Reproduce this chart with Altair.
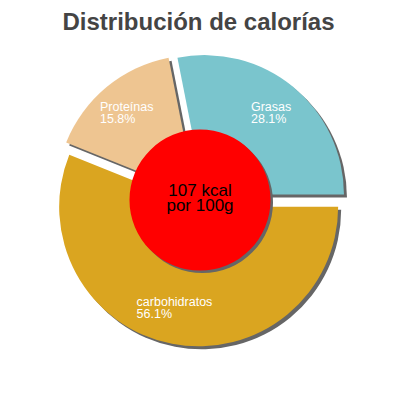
import altair as alt
import pandas as pd

# ---- data ----
categories = ["carbohidratos", "Proteínas", "Grasas"]
percents = [56.1, 15.8, 28.1]
colors = ["#DAA520", "#EEC591", "#7AC5CD"]
kcal = [107]
unit_line = ["por 100g"]
chart_title = ["Distribución de calorías"]

# ---- layout constants (chart coords = screen - 8) ----
OFF = 8
CX, CY = 200 - OFF, 200 - OFF
R = 139.5
R_IN = 70.5
D = 7
SH = 3
RL = 104
FONT = "Liberation Sans"

df = pd.DataFrame({"cat": categories, "pct": percents, "idx": list(range(len(categories)))})

base = (
    alt.Chart(df)
    .transform_window(cum="sum(pct)", sort=[alt.SortField("idx")], frame=[None, 0])
    .transform_joinaggregate(total="sum(pct)")
    .transform_calculate(
        start="PI/2 + (datum.cum - datum.pct)/datum.total*2*PI",
        end="PI/2 + datum.cum/datum.total*2*PI",
    )
    .transform_calculate(mid="(datum.start + datum.end)/2")
    .transform_calculate(
        ex=f"{CX} + {D}*sin(datum.mid)",
        ey=f"{CY} - {D}*cos(datum.mid)",
        lbl="datum.cat + '\\n' + format(datum.pct, '.1f') + '%'",
    )
    .transform_calculate(
        sx=f"datum.ex + {SH}",
        sy=f"datum.ey + {SH}",
        lx=f"datum.ex + {RL}*sin(datum.mid) - length(datum.cat)*3.25",
        ly=f"datum.ey - {RL}*cos(datum.mid)",
    )
)

shadow = base.mark_arc(outerRadius=R, color="#666666").encode(
    theta=alt.Theta("start:Q", scale=None),
    theta2="end:Q",
    x=alt.X("sx:Q", scale=None, axis=None),
    y=alt.Y("sy:Q", scale=None, axis=None),
)

slices = base.mark_arc(outerRadius=R).encode(
    theta=alt.Theta("start:Q", scale=None),
    theta2="end:Q",
    x=alt.X("ex:Q", scale=None, axis=None),
    y=alt.Y("ey:Q", scale=None, axis=None),
    color=alt.Color("cat:N", scale=alt.Scale(domain=categories, range=colors), legend=None),
)

labels = base.mark_text(
    align="left", baseline="alphabetic", dy=-3, font=FONT, fontSize=12.5,
    lineBreak="\n", lineHeight=12, color="white"
).encode(
    x=alt.X("lx:Q", scale=None, axis=None),
    y=alt.Y("ly:Q", scale=None, axis=None),
    text="lbl:N",
)

cdf = pd.DataFrame({"kcal": kcal, "unit": unit_line})
center = alt.Chart(cdf).transform_calculate(
    ctext="datum.kcal + ' kcal\\n' + datum.unit",
    t0="0",
    t1="2*PI",
)

circle_shadow = center.mark_arc(outerRadius=R_IN, color="#666666").encode(
    theta=alt.Theta("t0:Q", scale=None),
    theta2="t1:Q",
    x=alt.value(CX + 2.5),
    y=alt.value(CY + 2.5),
)
circle = center.mark_arc(outerRadius=R_IN, color="#FF0000").encode(
    theta=alt.Theta("t0:Q", scale=None),
    theta2="t1:Q",
    x=alt.value(CX),
    y=alt.value(CY),
)
c_text = center.mark_text(
    align="center", baseline="alphabetic", font=FONT, fontSize=17,
    lineBreak="\n", lineHeight=14.5, color="black"
).encode(x=alt.value(CX), y=alt.value(196 - OFF), text="ctext:N")

tdf = pd.DataFrame({"t": chart_title})
title = alt.Chart(tdf).mark_text(
    align="center", baseline="alphabetic", font=FONT, fontSize=24, fontWeight="bold", color="#444444"
).encode(x=alt.value(198.5 - OFF), y=alt.value(30 - OFF), text="t:N")

chart = alt.layer(
    shadow, slices, labels, circle_shadow, circle, c_text, title
).properties(
    width=384,
    height=384,
    autosize=alt.AutoSizeParams(type="none"),
    padding=0,
).configure_view(stroke=None)

chart.save("out.html", embed_options={"renderer": "svg", "actions": False})
